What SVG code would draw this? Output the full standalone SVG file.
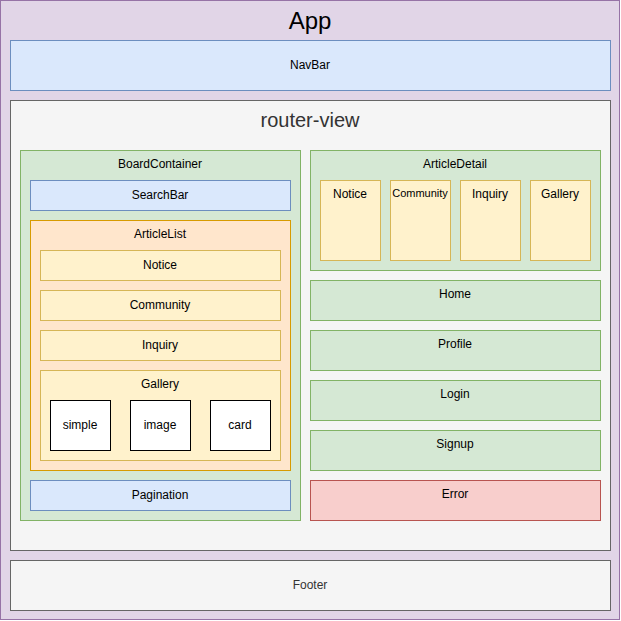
<svg xmlns="http://www.w3.org/2000/svg" width="621" height="621" viewBox="0 0 621 621">
  <style>
    text { font-family: "Liberation Sans", Arial, Helvetica, sans-serif; font-size: 12px; fill: #000; text-anchor: middle; }
    .purple { fill: #e1d5e7; stroke: #9673a6; }
    .blue { fill: #dae8fc; stroke: #6c8ebf; }
    .gray { fill: #f5f5f5; stroke: #666666; }
    .green { fill: #d5e8d4; stroke: #82b366; }
    .orange { fill: #ffe6cc; stroke: #d79b00; }
    .yellow { fill: #fff2cc; stroke: #d6b656; }
    .red { fill: #f8cecc; stroke: #b85450; }
    .white { fill: #ffffff; stroke: #000000; }
    .dim { fill: #333333; }
  </style>

  <g id="app">
    <rect class="purple" x="0.5" y="0.5" width="619" height="619"/>
    <text x="310" y="29" style="font-size:24px">App</text>
  </g>

  <g id="navbar">
    <rect class="blue" x="10.5" y="40.5" width="600" height="50"/>
    <text x="310" y="69">NavBar</text>
  </g>

  <g id="router-view">
    <rect class="gray" x="10.5" y="100.5" width="600" height="450"/>
    <text class="dim" x="310" y="127" style="font-size:20px">router-view</text>
  </g>

  <!-- left column: board -->
  <g id="board-container">
    <rect class="green" x="20.5" y="150.5" width="280" height="370"/>
    <text x="160" y="168">BoardContainer</text>
  </g>
  <g id="search-bar">
    <rect class="blue" x="30.5" y="180.5" width="260" height="30"/>
    <text x="160" y="199">SearchBar</text>
  </g>
  <g id="article-list">
    <rect class="orange" x="30.5" y="220.5" width="260" height="250"/>
    <text x="160" y="238">ArticleList</text>
  </g>
  <g id="list-notice">
    <rect class="yellow" x="40.5" y="250.5" width="240" height="30"/>
    <text x="160" y="269">Notice</text>
  </g>
  <g id="list-community">
    <rect class="yellow" x="40.5" y="290.5" width="240" height="30"/>
    <text x="160" y="309">Community</text>
  </g>
  <g id="list-inquiry">
    <rect class="yellow" x="40.5" y="330.5" width="240" height="30"/>
    <text x="160" y="349">Inquiry</text>
  </g>
  <g id="list-gallery">
    <rect class="yellow" x="40.5" y="370.5" width="240" height="90"/>
    <text x="160" y="388">Gallery</text>
  </g>
  <g id="gallery-simple">
    <rect class="white" x="50.5" y="400.5" width="60" height="50"/>
    <text x="80" y="429">simple</text>
  </g>
  <g id="gallery-image">
    <rect class="white" x="130.5" y="400.5" width="60" height="50"/>
    <text x="160" y="429">image</text>
  </g>
  <g id="gallery-card">
    <rect class="white" x="210.5" y="400.5" width="60" height="50"/>
    <text x="240" y="429">card</text>
  </g>
  <g id="pagination">
    <rect class="blue" x="30.5" y="480.5" width="260" height="30"/>
    <text x="160" y="499">Pagination</text>
  </g>

  <!-- right column: detail and pages -->
  <g id="article-detail">
    <rect class="green" x="310.5" y="150.5" width="290" height="120"/>
    <text x="455" y="168">ArticleDetail</text>
  </g>
  <g id="detail-notice">
    <rect class="yellow" x="320.5" y="180.5" width="60" height="80"/>
    <text x="350" y="198">Notice</text>
  </g>
  <g id="detail-community">
    <rect class="yellow" x="390.5" y="180.5" width="60" height="80"/>
    <text x="420" y="197" style="font-size:11px">Community</text>
  </g>
  <g id="detail-inquiry">
    <rect class="yellow" x="460.5" y="180.5" width="60" height="80"/>
    <text x="490" y="198">Inquiry</text>
  </g>
  <g id="detail-gallery">
    <rect class="yellow" x="530.5" y="180.5" width="60" height="80"/>
    <text x="560" y="198">Gallery</text>
  </g>
  <g id="home">
    <rect class="green" x="310.5" y="280.5" width="290" height="40"/>
    <text x="455" y="298">Home</text>
  </g>
  <g id="profile">
    <rect class="green" x="310.5" y="330.5" width="290" height="40"/>
    <text x="455" y="348">Profile</text>
  </g>
  <g id="login">
    <rect class="green" x="310.5" y="380.5" width="290" height="40"/>
    <text x="455" y="398">Login</text>
  </g>
  <g id="signup">
    <rect class="green" x="310.5" y="430.5" width="290" height="40"/>
    <text x="455" y="448">Signup</text>
  </g>
  <g id="error">
    <rect class="red" x="310.5" y="480.5" width="290" height="40"/>
    <text x="455" y="498">Error</text>
  </g>

  <g id="footer">
    <rect class="gray" x="10.5" y="560.5" width="600" height="50"/>
    <text class="dim" x="310" y="589">Footer</text>
  </g>

  <g id="connectors"/>
</svg>
